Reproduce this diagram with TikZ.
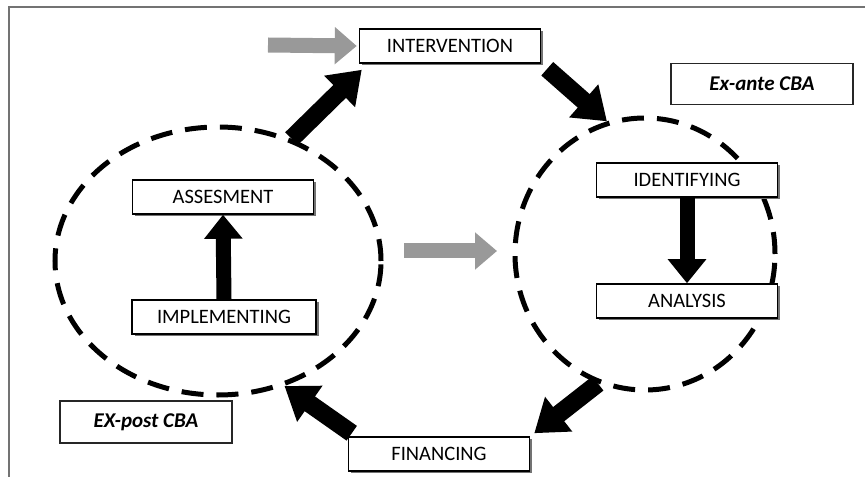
\documentclass[tikz,border=0pt]{standalone}
\usepackage{fontspec}
\setmainfont{Carlito}
\usetikzlibrary{arrows.meta,positioning,shapes.geometric,shadows}

\tikzset{
  stagebox/.style={draw=black, line width=1.5bp, fill=white,
    minimum width=181bp, minimum height=34bp, inner sep=0pt,
    drop shadow={shadow xshift=2.5bp, shadow yshift=-2bp, fill=black!55, opacity=1},
    font=\fontsize{20.5bp}{23bp}\selectfont, text=black},
  tagbox/.style={draw=black!85, line width=1.1bp, fill=white,
    minimum height=41bp, inner sep=0pt,
    font=\fontsize{21bp}{23bp}\selectfont\bfseries\itshape},
  ring/.style={ellipse, draw=black, line width=5bp, dash pattern=on 22bp off 13bp,
    inner sep=0pt},
  bigflow/.style={line width=18bp, -{Triangle[length=31bp, width=42bp]}},
  upflow/.style={line width=15bp, -{Triangle[length=24bp, width=37bp]}},
  greyflow/.style={line width=15bp, black!40, -{Triangle[length=22bp, width=36bp]}}
}

\begin{document}
\begin{tikzpicture}[x=1bp, y=-1bp]
  \useasboundingbox (0,0) rectangle (865,477);
  % open frame, top and left only
  \draw[black!55, line width=2.5bp] (9,477) -- (9,7) -- (865,7);

  % the two cycles
  \node[ring, minimum width=326bp, minimum height=268bp] (postcyc) at (218,261) {};
  \node[ring, minimum width=260bp, minimum height=272bp] (antecyc) at (645,254) {};

  % stages
  \node[stagebox] (interv) at (450,46) {INTERVENTION};
  \node[stagebox] (assess) at (223,197) {ASSESMENT};
  \node[stagebox, minimum width=184bp] (impl) at (224,317) {IMPLEMENTING};
  \node[stagebox] (ident) at (687,180) {IDENTIFYING};
  \node[stagebox] (anal) at (687,301) {ANALYSIS};
  \node[stagebox] (fin) at (439,454) {FINANCING};

  % labels of the two phases
  \node[tagbox, minimum width=182bp] (ante) at (762,84) {Ex-ante CBA};
  \node[tagbox, minimum width=172bp, minimum height=42bp] (post) at (146,422) {EX-post CBA};

  % grey hand-over arrows
  \coordinate (feed) at (268,45);
  \coordinate (mida) at (404,251);
  \coordinate (midb) at (497,251);
  \draw[greyflow] (feed) -- ([xshift=-2bp]interv.west);
  \draw[greyflow] (mida) -- (midb);

  % main cycle
  \draw[bigflow] (postcyc.59) -- ([shift={(3,6)}]interv.south west);
  \draw[bigflow] ([shift={(6,5)}]interv.south east) -- (antecyc.106);
  \draw[bigflow] (antecyc.250) -- ([shift={(4,-3)}]fin.north east);
  \draw[bigflow] ([shift={(4,-3)}]fin.north west) -- (postcyc.298);

  % inner steps
  \draw[upflow] (impl.north) -- (assess.south);
  \draw[upflow] (ident.south) -- (anal.north);
\end{tikzpicture}
\end{document}
